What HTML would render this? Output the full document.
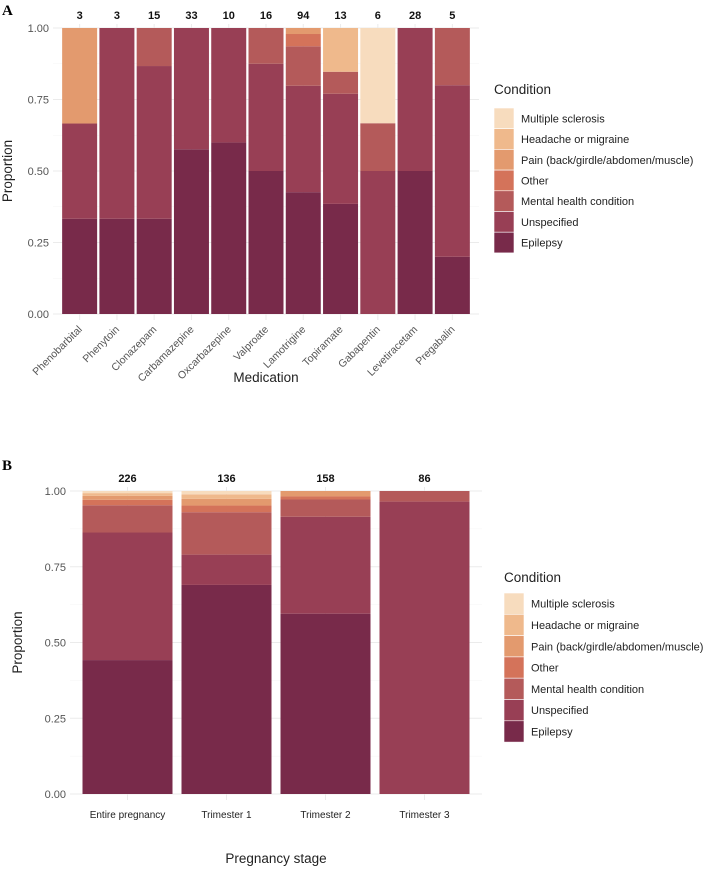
<!DOCTYPE html>
<html><head><meta charset="utf-8"><style>
body{margin:0;background:#fff;}
svg{display:block;font-family:"Liberation Sans",Arial,sans-serif;}
</style></head><body>
<svg id="chart" width="709" height="877" viewBox="0 0 709 877" xmlns="http://www.w3.org/2000/svg">
<text x="2" y="15" font-family="Liberation Serif" font-weight="bold" font-size="15">A</text>
<text x="2" y="470" font-family="Liberation Serif" font-weight="bold" font-size="15">B</text>
<g id="gA"></g><g id="gB"></g>
</svg>
<script>
const conditions = ["Epilepsy","Unspecified","Mental health condition","Other","Pain (back/girdle/abdomen/muscle)","Headache or migraine","Multiple sclerosis"];
const colors = ["#782a4a","#983f55","#b45a5a","#d4735a","#e39a6e","#efb98c","#f7dcbe"];
const medications = ["Phenobarbital","Phenytoin","Clonazepam","Carbamazepine","Oxcarbazepine","Valproate","Lamotrigine","Topiramate","Gabapentin","Levetiracetam","Pregabalin"];
const medCounts = [3,3,15,33,10,16,94,13,6,28,5];
const medEpilepsy = [0.333,0.333,0.333,0.576,0.6,0.5,0.426,0.385,0,0.5,0.2];
const medUnspecified = [0.333,0.667,0.534,0.424,0.4,0.375,0.372,0.385,0.5,0.5,0.6];
const medMental = [0,0,0.133,0,0,0.125,0.138,0.077,0.167,0,0.2];
const medOther = [0,0,0,0,0,0,0.043,0,0,0,0];
const medPain = [0.334,0,0,0,0,0,0.021,0,0,0,0];
const medHeadache = [0,0,0,0,0,0,0,0.153,0,0,0];
const medMS = [0,0,0,0,0,0,0,0,0.333,0,0];
const stages = ["Entire pregnancy","Trimester 1","Trimester 2","Trimester 3"];
const stageCounts = [226,136,158,86];
const stEpilepsy = [0.442,0.69,0.595,0];
const stUnspecified = [0.421,0.10,0.32,0.965];
const stMental = [0.09,0.14,0.057,0.035];
const stOther = [0.018,0.022,0.01,0];
const stPain = [0.013,0.022,0.018,0];
const stHeadache = [0.009,0.015,0,0];
const stMS = [0.007,0.011,0,0];
const yTicks = [0,0.25,0.5,0.75,1];
const yTickLabels = ["0.00","0.25","0.50","0.75","1.00"];

const NS="http://www.w3.org/2000/svg";
function mk(parent,tag,attrs,text){const e=document.createElementNS(NS,tag);for(const k in attrs)e.setAttribute(k,attrs[k]);if(text!==undefined)e.textContent=text;parent.appendChild(e);return e;}

function panel(g,cfg){
  const {cats,counts,series,x0,x1,yTop,yBot,barW,prefix,rot,xTitle,xTitleY,yTitleX,legX,legTitleY,legKeyY,keyH,xLabY}=cfg;
  const step=(x1-x0)/cats.length;
  const xc=i=>x0+step*(i+0.5);
  const ys=v=>yBot-(yBot-yTop)*v;
  for(let i=0;i<yTicks.length;i++){
    const y=ys(yTicks[i]);
    const l=mk(g,'line',{x1:x0-8,x2:x1+8,y1:y,y2:y,stroke:'#ebebeb','stroke-width':1});
    
    
    if(i<yTicks.length-1){const ym=ys((yTicks[i]+yTicks[i+1])/2);
      const m=mk(g,'line',{x1:x0-8,x2:x1+8,y1:ym,y2:ym,stroke:'#f4f4f4','stroke-width':0.6});
      
      }
    const t=mk(g,'text',{x:x0-12,y:y+4,'text-anchor':'end','font-size':11,fill:'#555'},yTickLabels[i]);
    
    
  }
  cats.forEach((c,i)=>{
    const vl=mk(g,'line',{x1:xc(i),x2:xc(i),y1:yTop-4,y2:yBot+6,stroke:'#ebebeb','stroke-width':1});
    
    
  });
  cats.forEach((c,i)=>{
    let acc=0;
    series.forEach((s,k)=>{
      const v=s[i]; if(v<=0) return;
      const y1=ys(acc+v), y2=ys(acc); acc+=v;
      const r=mk(g,'rect',{x:xc(i)-barW/2,y:y1,width:barW,height:y2-y1,fill:colors[k]});
      
      
    });
    const n=mk(g,'text',{x:xc(i),y:yTop-9,'text-anchor':'middle','font-size':11,'font-weight':'bold',fill:'#111'},counts[i]);
    
    
    let t;
    if(rot){t=mk(g,'text',{x:xc(i)+3,y:yBot+16,'text-anchor':'end','font-size':10.5,fill:'#555',transform:`rotate(-45 ${xc(i)+3} ${yBot+16})`},c);}
    else {t=mk(g,'text',{x:xc(i),y:yBot+xLabY,'text-anchor':'middle','font-size':10,fill:'#222'},c);}
    
    
  });
  const xt=mk(g,'text',{x:(x0+x1)/2,y:xTitleY,'text-anchor':'middle','font-size':13.5,fill:'#222'},xTitle);
  
  
  const ym=(yTop+yBot)/2;
  const yt=mk(g,'text',{x:yTitleX,y:ym,'text-anchor':'middle','font-size':13.5,fill:'#222',transform:`rotate(-90 ${yTitleX} ${ym})`},'Proportion');
  
  
  const lt=mk(g,'text',{x:legX,y:legTitleY,'font-size':13.5,fill:'#222'},'Condition');
  
  
  for(let j=0;j<7;j++){
    const k=6-j; const y=legKeyY+j*keyH;
    const r=mk(g,'rect',{x:legX,y:y,width:20,height:keyH,fill:colors[k],stroke:'#fff','stroke-width':0.6});
    
    
    const t=mk(g,'text',{x:legX+27,y:y+keyH/2+4,'font-size':11,fill:'#222'},conditions[k]);
    
    
  }
}
panel(document.getElementById('gA'),{cats:medications,counts:medCounts,
  series:[medEpilepsy,medUnspecified,medMental,medOther,medPain,medHeadache,medMS],
  x0:61,x1:471,yTop:28,yBot:314,barW:35,prefix:'a',rot:true,xTitle:'Medication',xTitleY:382,yTitleX:12,
  legX:494,legTitleY:94,legKeyY:108,keyH:20.7,xLabY:0});
panel(document.getElementById('gB'),{cats:stages,counts:stageCounts,
  series:[stEpilepsy,stUnspecified,stMental,stOther,stPain,stHeadache,stMS],
  x0:78,x1:474,yTop:491,yBot:794,barW:90,prefix:'b',rot:false,xTitle:'Pregnancy stage',xTitleY:863,yTitleX:22,
  legX:504,legTitleY:582,legKeyY:593,keyH:21.3,xLabY:24});
</script>
</body></html>
